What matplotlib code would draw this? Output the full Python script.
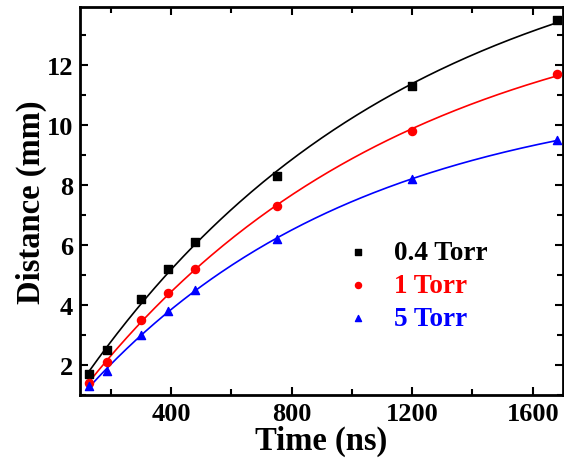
import matplotlib
matplotlib.use("Agg")
import matplotlib.pyplot as plt
from matplotlib.ticker import MultipleLocator
import numpy as np

plt.rcParams["font.family"] = "Liberation Serif"
plt.rcParams["font.weight"] = "bold"

TIME = [128, 188, 300, 390, 480, 750, 1200, 1680]
D_04 = [1.7, 2.5, 4.2, 5.2, 6.1, 8.3, 11.3, 13.5]
D_1 = [1.4, 2.1, 3.5, 4.4, 5.2, 7.3, 9.8, 11.7]
D_5 = [1.3, 1.8, 3.0, 3.8, 4.5, 6.2, 8.2, 9.5]
LABELS = ["0.4 Torr", "1 Torr", "5 Torr"]
COLORS = ["black", "red", "blue"]
MARKERS = ["s", "o", "^"]


def drag_fit(t, d):
    # d = c + a*(1 - exp(-k t)), grid search on k, least squares on a, c
    best = None
    for k in np.linspace(1e-5, 3e-3, 600):
        A = np.column_stack([np.ones_like(t), 1 - np.exp(-k * t)])
        sol, *_ = np.linalg.lstsq(A, d, rcond=None)
        err = np.sum((A @ sol - d) ** 2)
        if best is None or err < best[0]:
            best = (err, k, sol)
    _, k, (c, a) = best
    return lambda x: c + a * (1 - np.exp(-k * x))


fig = plt.figure(figsize=(5.64, 4.64), dpi=100)
ax = fig.add_axes([0.142, 0.147, 0.856, 0.836])

t = np.array(TIME, dtype=float)
tt = np.linspace(t.min(), t.max(), 200)
handles = []
for d, lbl, c, m in zip([D_04, D_1, D_5], LABELS, COLORS, MARKERS):
    f = drag_fit(t, np.array(d))
    ax.plot(tt, f(tt), color=c, lw=1.2)
    h = ax.scatter(t, d, color=c, marker=m, s=34, zorder=3, label=lbl)
    handles.append(h)

ax.set_xlim(98, 1700)
ax.set_ylim(1, 13.95)
ax.xaxis.set_major_locator(MultipleLocator(400))
ax.xaxis.set_minor_locator(MultipleLocator(200))
ax.yaxis.set_major_locator(MultipleLocator(2))
ax.yaxis.set_minor_locator(MultipleLocator(1))
ax.tick_params(which="both", direction="in", top=True, right=True, width=1.5)
ax.tick_params(which="major", length=6, labelsize=19, pad=5)
ax.tick_params(which="minor", length=4)
for s in ax.spines.values():
    s.set_linewidth(2)

ax.set_xlabel("Time (ns)", fontsize=23.5, fontweight="bold", labelpad=0)
ax.set_ylabel("Distance (mm)", fontsize=23.5, fontweight="bold", labelpad=0)

leg = ax.legend(handles=handles, loc="center left", bbox_to_anchor=(0.47, 0.282),
                frameon=False, fontsize=19.5, handletextpad=0.3, labelspacing=0.3,
                markerscale=0.75)
for txt, c in zip(leg.get_texts(), COLORS):
    txt.set_color(c)

fig.savefig("out.png", dpi=100)
